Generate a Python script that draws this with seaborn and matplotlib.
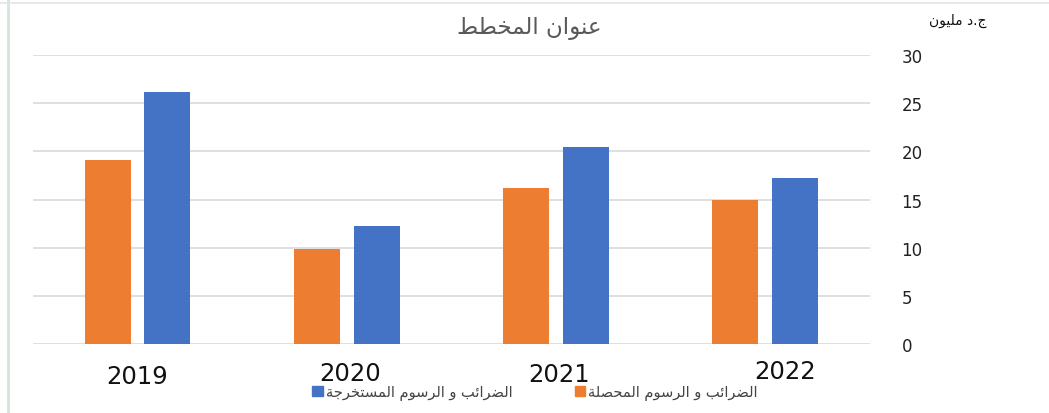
import matplotlib
matplotlib.use("Agg")
import matplotlib.pyplot as plt
from matplotlib.lines import Line2D
from matplotlib.transforms import ScaledTranslation
import seaborn as sns
import pandas as pd

# ---- data ----
years = ["2019", "2020", "2021", "2022"]
collected = [19.1, 9.9, 16.2, 15.0]      # الضرائب و الرسوم المحصلة
extracted = [26.2, 12.3, 20.4, 17.25]    # الضرائب و الرسوم المستخرجة
series_names = ["الضرائب و الرسوم المحصلة", "الضرائب و الرسوم المستخرجة"]
y_ticks = [0, 5, 10, 15, 20, 25, 30]
title_text = "عنوان المخطط"
unit_words = ["مليون", "د.ج"]

colors = ["#ED7D31", "#4472C4"]

# ---- minimal Arabic shaping (presentation forms + RTL order) ----
FORMS = {
    # letter: (isolated, final, initial, medial) ; None => right-joining only
    "ا": ("\uFE8D", "\uFE8E", None, None),
    "ب": ("\uFE8F", "\uFE90", "\uFE91", "\uFE92"),
    "ة": ("\uFE93", "\uFE94", None, None),
    "ت": ("\uFE95", "\uFE96", "\uFE97", "\uFE98"),
    "ج": ("\uFE9D", "\uFE9E", "\uFE9F", "\uFEA0"),
    "ح": ("\uFEA1", "\uFEA2", "\uFEA3", "\uFEA4"),
    "خ": ("\uFEA5", "\uFEA6", "\uFEA7", "\uFEA8"),
    "د": ("\uFEA9", "\uFEAA", None, None),
    "ر": ("\uFEAD", "\uFEAE", None, None),
    "س": ("\uFEB1", "\uFEB2", "\uFEB3", "\uFEB4"),
    "ص": ("\uFEB9", "\uFEBA", "\uFEBB", "\uFEBC"),
    "ض": ("\uFEBD", "\uFEBE", "\uFEBF", "\uFEC0"),
    "ط": ("\uFEC1", "\uFEC2", "\uFEC3", "\uFEC4"),
    "ع": ("\uFEC9", "\uFECA", "\uFECB", "\uFECC"),
    "ل": ("\uFEDD", "\uFEDE", "\uFEDF", "\uFEE0"),
    "م": ("\uFEE1", "\uFEE2", "\uFEE3", "\uFEE4"),
    "ن": ("\uFEE5", "\uFEE6", "\uFEE7", "\uFEE8"),
    "و": ("\uFEED", "\uFEEE", None, None),
    "ي": ("\uFEF1", "\uFEF2", "\uFEF3", "\uFEF4"),
    "ئ": ("\uFE89", "\uFE8A", "\uFE8B", "\uFE8C"),
}


def dual(c):
    return c in FORMS and FORMS[c][2] is not None


def shape(text, reverse=True):
    out = []
    n = len(text)
    for i, c in enumerate(text):
        if c not in FORMS:
            out.append(c)
            continue
        prev_c = text[i - 1] if i > 0 else ""
        next_c = text[i + 1] if i < n - 1 else ""
        jp = dual(prev_c)
        jn = dual(c) and next_c in FORMS
        iso, fin, ini, med = FORMS[c]
        if jp and jn:
            out.append(med)
        elif jp:
            out.append(fin)
        elif jn:
            out.append(ini)
        else:
            out.append(iso)
    s = "".join(out)
    return s[::-1] if reverse else s


plt.rcParams["font.family"] = ["DejaVu Sans"]

df = pd.DataFrame({
    "year": years * 2,
    "value": collected + extracted,
    "series": [series_names[0]] * len(years) + [series_names[1]] * len(years),
})

fig = plt.figure(figsize=(10.49, 4.14), dpi=100)
ax = fig.add_axes([0.0315, 0.1667, 0.7975, 0.698])
sns.barplot(data=df, x="year", y="value", hue="series", palette=colors,
            width=0.57, gap=0.23, ax=ax, legend=False, saturation=1)

ax.set_xlim(-0.5, 3.5)
ax.set_ylim(0, 30)
ax.set_yticks(y_ticks)
ax.yaxis.tick_right()
ax.tick_params(axis="y", length=0, pad=23, labelsize=12, labelcolor="#222222")
ax.tick_params(axis="x", length=0, pad=13, labelsize=17.5, labelcolor="#111111")
ax.set_xlabel("")
ax.set_ylabel("")
ax.grid(axis="y", color="#d9d9d9", linewidth=1.2)
ax.set_axisbelow(True)
for s in ax.spines.values():
    s.set_visible(False)

# slight irregular placement of year labels, as in the reference
offsets_px = [(0, -2), (3, 1), (3, 0), (20, 3)]
for lab, (dx, dy) in zip(ax.get_xticklabels(), offsets_px):
    lab.set_transform(lab.get_transform()
                      + ScaledTranslation(dx / 100, dy / 100, fig.dpi_scale_trans))

# title and unit label
fig.text(0.505, 0.932, shape(title_text), ha="center", va="center",
         fontsize=16.5, color="#595959")
fig.text(0.913, 0.95, shape(unit_words[0]) + " " + unit_words[1],
         ha="center", va="center", fontsize=10, color="#111111")

# legend
handles = [plt.Rectangle((0, 0), 1, 1, color=colors[1]),
           plt.Rectangle((0, 0), 1, 1, color=colors[0])]
labels = [shape(series_names[1]), shape(series_names[0])]
fig.legend(handles, labels, loc="center", bbox_to_anchor=(0.510, 0.05),
           ncol=2, frameon=False, fontsize=10.5, handlelength=0.7,
           handleheight=0.7, handletextpad=0.2, columnspacing=4.3,
           labelcolor="#444444")

# image frame lines
fig.add_artist(Line2D([0.0075, 0.0075], [0, 1], color="#d5e6d8", linewidth=2))
fig.add_artist(Line2D([0, 1], [0.99, 0.99], color="#e4e4e4", linewidth=1.2))

fig.savefig("out.png", dpi=100, facecolor="white")
